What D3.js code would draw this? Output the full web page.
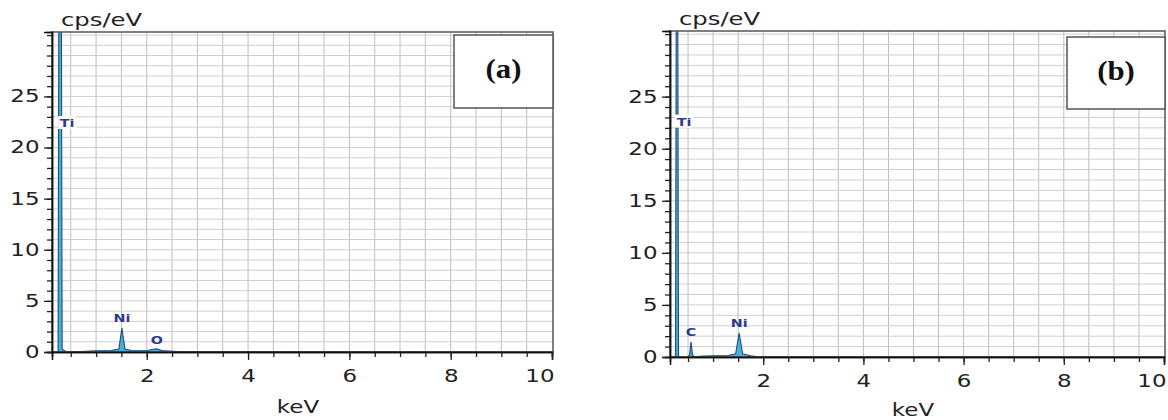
<!DOCTYPE html>
<html>
<head>
<meta charset="utf-8">
<script src="https://cdn.jsdelivr.net/npm/d3@7"></script>
<style>
  body { margin: 0; background: #fff; }
  svg { display: block; }
</style>
</head>
<body>
<svg id="chart" width="1168" height="420"></svg>
<script>
// spectrum (a): energy in keV, intensity in cps/eV
const energyA = [0.13, 0.25, 0.265, 0.29, 0.315, 0.33, 0.40, 0.6, 1.0, 1.3, 1.45, 1.51, 1.57, 1.7, 2.0, 2.1, 2.2, 2.3, 2.6, 10];
const countsA = [0, 0, 35, 42, 35, 0.3, 0.05, 0.02, 0.12, 0.15, 0.3, 2.35, 0.3, 0.15, 0.12, 0.25, 0.3, 0.15, 0.05, 0];

// spectrum (b)
const energyB = [0.14, 0.25, 0.265, 0.28, 0.295, 0.31, 0.4, 0.5, 0.53, 0.56, 0.59, 0.62, 0.8, 1.0, 1.3, 1.45, 1.52, 1.59, 1.75, 1.9, 10];
const countsB = [0, 0, 35, 42, 35, 0, 0.02, 0.03, 0.2, 1.45, 0.2, 0.03, 0.1, 0.12, 0.15, 0.3, 2.3, 0.3, 0.12, 0.03, 0];

// peak labels
const peakNamesA = ["Ti", "Ni", "O"];
const peakEnergyA = [0.29, 1.51, 2.2];
const peakLabelA = [22.4, 3.3, 1.2];

const peakNamesB = ["Ti", "C", "Ni"];
const peakEnergyB = [0.28, 0.56, 1.52];
const peakLabelB = [22.6, 2.4, 3.3];

const xTickLabels = [2, 4, 6, 8, 10];
const yTickLabels = [0, 5, 10, 15, 20, 25];
const panelTags = ["(a)", "(b)"];

const svg = d3.select("#chart");
const SX = 1.35; // the original figure is stretched sideways
const SANS = "DejaVu Sans, Verdana, sans-serif";

const panels = [
  { tag: panelTags[0], energy: energyA, counts: countsA,
    names: peakNamesA, pe: peakEnergyA, py: peakLabelA,
    xDom: [0.13, 10], left: 52, right: 553, top: 32, bottom: 352,
    box: [454, 35, 99, 73], keV: [298, 413] },
  { tag: panelTags[1], energy: energyB, counts: countsB,
    names: peakNamesB, pe: peakEnergyB, py: peakLabelB,
    xDom: [0.14, 10], left: 670, right: 1165, top: 31, bottom: 357,
    box: [1067, 37, 98, 72], keV: [913, 416] }
];

panels.forEach((p, pi) => {
  const x = d3.scaleLinear().domain(p.xDom).range([p.left, p.right - 1]);
  const y = d3.scaleLinear().domain([0, 31.3]).range([p.bottom, p.top]);
  const g = svg.append("g");

  const clipId = "clip" + pi;
  svg.append("clipPath").attr("id", clipId)
    .append("rect")
    .attr("x", p.left).attr("y", p.top)
    .attr("width", p.right - p.left).attr("height", p.bottom - p.top);

  // grid
  const vGrid = d3.range(0.5, 10, 0.5);
  const hGrid = d3.range(1, 32, 1);
  g.append("g").selectAll("line").data(vGrid).join("line")
    .attr("x1", d => x(d)).attr("x2", d => x(d))
    .attr("y1", p.top).attr("y2", p.bottom)
    .attr("stroke", "#bdbdbd").attr("stroke-width", 1);
  g.append("g").selectAll("line").data(hGrid).join("line")
    .attr("x1", p.left).attr("x2", p.right)
    .attr("y1", d => y(d)).attr("y2", d => y(d))
    .attr("stroke", "#cfcfcf").attr("stroke-width", 1);

  // spectrum
  const pts = p.energy.map((e, i) => [e, p.counts[i]]);
  const area = d3.area().x(d => x(d[0])).y0(y(0)).y1(d => y(d[1]));
  const line = d3.line().x(d => x(d[0])).y(d => y(d[1]));
  const spec = g.append("g").attr("clip-path", `url(#${clipId})`);
  spec.append("path").datum(pts).attr("d", area).attr("fill", "#44b2d0");
  spec.append("path").datum(pts).attr("d", line)
    .attr("fill", "none").attr("stroke", "#234a86").attr("stroke-width", 1.1);

  // peak labels
  p.names.forEach((n, i) => {
    const lx = n === "Ti" ? x(p.pe[i]) + 7 : x(p.pe[i]);
    const ly = y(p.py[i]);
    if (n === "Ti") {
      g.append("rect").attr("x", lx - 9).attr("y", ly - 7)
        .attr("width", 18).attr("height", 13).attr("fill", "#fff");
    }
    g.append("g").attr("transform", `translate(${lx},${ly})`)
      .append("text")
      .attr("transform", "scale(1.3,1)")
      .attr("text-anchor", "middle").attr("dy", "0.36em")
      .style("font-family", SANS)
      .attr("font-size", 11).attr("font-weight", "bold")
      .attr("fill", "#2b3a8f").text(n);
  });

  // frame
  g.append("rect")
    .attr("x", p.left).attr("y", p.top)
    .attr("width", p.right - p.left).attr("height", p.bottom - p.top)
    .attr("fill", "none").attr("stroke", "#555").attr("stroke-width", 1.5);

  // y axis
  const yMinor = g.append("g").attr("transform", `translate(${p.left},0)`)
    .call(d3.axisLeft(y).tickValues(d3.range(0, 32, 1)).tickSize(5).tickFormat(""));
  const yMajor = g.append("g").attr("transform", `translate(${p.left},0)`)
    .call(d3.axisLeft(y).tickValues(yTickLabels).tickSize(8).tickPadding(4));
  yMajor.selectAll("text").attr("x", -12.5 / SX).attr("transform", `scale(${SX},1)`)
    .style("font-family", SANS).attr("font-size", 17).attr("fill", "#222");

  // x axis
  const xMinor = g.append("g").attr("transform", `translate(0,${p.bottom})`)
    .call(d3.axisBottom(x).tickValues(d3.range(0.5, 10.01, 0.5)).tickSize(5).tickFormat(""));
  const xMajor = g.append("g").attr("transform", `translate(0,${p.bottom})`)
    .call(d3.axisBottom(x).tickValues(xTickLabels).tickSize(8).tickPadding(10));
  xMajor.selectAll("text").attr("transform", `scale(${SX},1)`)
    .style("font-family", SANS).attr("font-size", 17).attr("fill", "#222")
    // last label sits inside the frame end, as in the original
    .filter(d => d === xTickLabels[xTickLabels.length - 1])
    .attr("text-anchor", "end").attr("x", 2 / SX);

  [yMinor, yMajor, xMinor, xMajor].forEach(a => {
    a.select(".domain").attr("stroke", "#111").attr("stroke-width", 1.5);
    a.selectAll(".tick line").attr("stroke", "#222").attr("stroke-width", 1.3);
  });

  // axis titles
  g.append("g").attr("transform", `translate(${p.left + 9},${p.top - 6})`)
    .append("text").attr("transform", `scale(${SX},1)`)
    .style("font-family", SANS)
    .attr("font-size", 18).attr("fill", "#222").text("cps/eV");
  g.append("g").attr("transform", `translate(${p.keV[0]},${p.keV[1]})`)
    .append("text").attr("transform", `scale(${SX},1)`)
    .attr("text-anchor", "middle").style("font-family", SANS)
    .attr("font-size", 17).attr("fill", "#222").text("keV");

  // panel tag box
  g.append("rect")
    .attr("x", p.box[0]).attr("y", p.box[1])
    .attr("width", p.box[2]).attr("height", p.box[3])
    .attr("fill", "#fff").attr("stroke", "#555").attr("stroke-width", 1.5);
  g.append("g").attr("transform", `translate(${p.box[0] + p.box[2] / 2},${p.box[1] + p.box[3] / 2 - 3})`)
    .append("text").attr("transform", `scale(1.1,1)`)
    .attr("text-anchor", "middle").attr("dy", "0.35em")
    .style("font-family", "'Liberation Serif', 'Times New Roman', serif")
    .attr("font-weight", "bold").attr("font-size", 28)
    .attr("fill", "#111").text(p.tag);
});
</script>
</body>
</html>
